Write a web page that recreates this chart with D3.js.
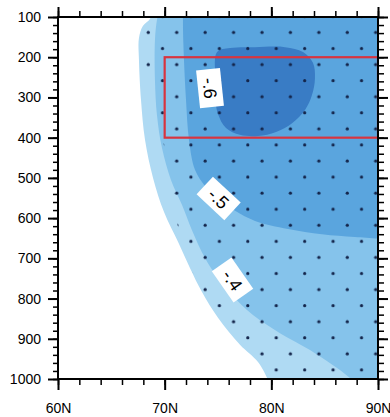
<!DOCTYPE html>
<html>
<head>
<meta charset="utf-8">
<script src="https://cdn.jsdelivr.net/npm/d3@7/dist/d3.min.js"></script>
<style>
  html, body { margin: 0; padding: 0; background: #fff; }
  svg { display: block; }
  text { font-family: "Liberation Sans", Arial, Helvetica, sans-serif; }
</style>
</head>
<body>
<svg id="chart" width="390" height="417"></svg>
<script>
// Axis ticks and labels
const latTicks = [60, 70, 80, 90];
const latTickLabels = ["60N", "70N", "80N", "90N"];
const latMinorTicks = d3.range(60, 90.1, 2);
const presTicks = [100, 200, 300, 400, 500, 600, 700, 800, 900, 1000];
const presMinorTicks = d3.range(100, 1000.1, 20);

// Contour levels (shading intervals) and their fill colours
const levels = [-0.3, -0.4, -0.5, -0.6];
const levelColors = ["#afdaf3", "#85c3eb", "#5aa5de", "#397cc5"];

// Contour boundaries as [latitude, pressure] points
const contourM03 = [
  [68.8, 88], [68.62, 105], [67.97, 122], [67.59, 152], [67.59, 207],
  [67.78, 306], [68.16, 406], [68.91, 500], [69.94, 585], [71.25, 659],
  [72.37, 724], [73.5, 784], [75.0, 848], [77.06, 915], [78.75, 958],
  [79.69, 1002], [79.9, 1015]
];
const contourM04 = [
  [69.47, 88], [69.28, 107], [69.09, 157], [69.09, 257], [69.28, 344],
  [69.75, 426], [70.59, 505], [71.62, 567], [72.56, 630], [73.78, 699],
  [75.0, 749], [76.31, 791], [78.28, 841], [80.81, 886], [83.62, 928],
  [86.7, 983], [87.56, 1002], [87.9, 1012]
];
const contourM05 = [
  [71.72, 88], [71.72, 132], [71.81, 207], [72.0, 306], [72.28, 406],
  [72.84, 480], [73.78, 520], [74.91, 550], [76.6, 582], [78.47, 607],
  [81.56, 627], [84.75, 640], [87.84, 647], [90.66, 652]
];
const contourM06 = [
  [74.91, 187], [76.13, 177], [78.47, 175], [81.28, 175], [82.97, 187],
  [83.9, 214], [84.09, 252], [83.81, 294], [83.16, 331], [81.94, 364],
  [80.44, 386], [78.75, 396], [77.06, 393], [75.75, 376], [75.0, 341],
  [74.72, 299], [74.72, 244]
];

// Edge of the significant (stippled) area
const signifEdge = [
  [67.69, 88], [67.88, 157], [68.16, 212], [68.81, 281], [69.37, 356],
  [70.03, 431], [70.5, 518], [70.87, 580], [71.53, 647], [72.37, 717],
  [73.22, 771], [74.25, 828], [75.66, 878], [77.06, 915], [78.47, 954],
  [79.5, 1007], [79.6, 1015]
];

// Inline contour labels
const labelText = ["-.6", "-.5", "-.4"];
const labelLat = [74.25, 75.06, 76.36];
const labelPres = [277, 551, 754];
const labelAngle = [84, 43, 55];

// Highlighted box
const boxLat = [70, 90];
const boxPres = [200, 400];

const svg = d3.select("#chart");
const margin = { left: 58, right: 12, top: 17, bottom: 38 };
const W = 390, H = 417;

const x = d3.scaleLinear().domain([60, 90]).range([margin.left, W - margin.right]);
const y = d3.scaleLinear().domain([100, 1000]).range([margin.top, H - margin.bottom]);

const defs = svg.append("defs");
defs.append("clipPath").attr("id", "plotClip")
  .append("rect")
  .attr("x", x(60)).attr("y", y(100))
  .attr("width", x(90) - x(60)).attr("height", y(1000) - y(100));

// Stipple dot pattern (staggered)
const pat = defs.append("pattern")
  .attr("id", "stipple")
  .attr("patternUnits", "userSpaceOnUse")
  .attr("x", 141.2).attr("y", 24.5)
  .attr("width", 28.43).attr("height", 32.14);
pat.append("circle").attr("cx", 7.1).attr("cy", 8.0).attr("r", 1.6).attr("fill", "#13244a");
pat.append("circle").attr("cx", 21.32).attr("cy", 24.07).attr("r", 1.6).attr("fill", "#13244a");

const openCurve = d3.line()
  .x(d => x(d[0])).y(d => y(d[1]))
  .curve(d3.curveCatmullRom.alpha(0.5));
const closedCurve = d3.line()
  .x(d => x(d[0])).y(d => y(d[1]))
  .curve(d3.curveCatmullRomClosed.alpha(0.5));

function regionPath(boundary, exterior) {
  return openCurve(boundary) +
    exterior.map(d => "L" + x(d[0]) + "," + y(d[1])).join("") + "Z";
}

const plot = svg.append("g").attr("clip-path", "url(#plotClip)");

const eastBottom = [[93, 1015], [93, 80]];
plot.append("path").attr("d", regionPath(contourM03, eastBottom)).attr("fill", levelColors[0]);
plot.append("path").attr("d", regionPath(contourM04, eastBottom)).attr("fill", levelColors[1]);
plot.append("path").attr("d", regionPath(contourM05, [[93, 652], [93, 80]])).attr("fill", levelColors[2]);
plot.append("path").attr("d", closedCurve(contourM06)).attr("fill", levelColors[3]);

// Stippling over the significant area
plot.append("path").attr("d", regionPath(signifEdge, eastBottom)).attr("fill", "url(#stipple)");

// Red box
plot.append("rect")
  .attr("x", x(boxLat[0])).attr("y", y(boxPres[0]))
  .attr("width", x(boxLat[1]) - x(boxLat[0]))
  .attr("height", y(boxPres[1]) - y(boxPres[0]))
  .attr("fill", "none").attr("stroke", "#d8343f").attr("stroke-width", 2.2);

// Contour labels with white boxes
const labels = svg.append("g");
labelText.forEach((t, i) => {
  const g = labels.append("g")
    .attr("transform", `translate(${x(labelLat[i])},${y(labelPres[i])}) rotate(${labelAngle[i]})`);
  g.append("rect").attr("x", -19).attr("y", -12).attr("width", 38).attr("height", 24).attr("fill", "#fff");
  g.append("text").attr("text-anchor", "middle").attr("dy", "0.36em")
    .attr("font-size", 18).attr("fill", "#000").text(t);
});

// Axes: outward major and minor ticks on all four sides
function styleAxis(g, w) {
  g.select(".domain").remove();
  g.selectAll(".tick line").attr("stroke", "#000").attr("stroke-width", w);
  g.selectAll("text").attr("font-size", 14).attr("fill", "#000")
    .style("font-family", "'Liberation Sans', Arial, sans-serif");
}

const yb = y(1000), yt = y(100), xl = x(60), xr = x(90);

svg.append("g").attr("transform", `translate(${xl},0)`)
  .call(d3.axisLeft(y).tickValues(presMinorTicks).tickSize(5).tickFormat(""))
  .call(g => styleAxis(g, 1.5));
svg.append("g").attr("transform", `translate(${xl},0)`)
  .call(d3.axisLeft(y).tickValues(presTicks).tickSize(10).tickPadding(7).tickFormat(d3.format("d")))
  .call(g => styleAxis(g, 2));

svg.append("g").attr("transform", `translate(${xr},0)`)
  .call(d3.axisRight(y).tickValues(presMinorTicks).tickSize(6).tickFormat(""))
  .call(g => styleAxis(g, 1.5));
svg.append("g").attr("transform", `translate(${xr},0)`)
  .call(d3.axisRight(y).tickValues(presTicks).tickSize(10).tickFormat(""))
  .call(g => styleAxis(g, 2));

svg.append("g").attr("transform", `translate(0,${yt})`)
  .call(d3.axisTop(x).tickValues(latMinorTicks).tickSize(6).tickFormat(""))
  .call(g => styleAxis(g, 1.5));
svg.append("g").attr("transform", `translate(0,${yt})`)
  .call(d3.axisTop(x).tickValues(latTicks).tickSize(10).tickFormat(""))
  .call(g => styleAxis(g, 2));

svg.append("g").attr("transform", `translate(0,${yb})`)
  .call(d3.axisBottom(x).tickValues(latMinorTicks).tickSize(6).tickFormat(""))
  .call(g => styleAxis(g, 1.5));
svg.append("g").attr("transform", `translate(0,${yb})`)
  .call(d3.axisBottom(x).tickValues(latTicks).tickSize(11).tickPadding(13)
    .tickFormat((d, i) => latTickLabels[i]))
  .call(g => styleAxis(g, 2));

// Frame
svg.append("rect")
  .attr("x", xl).attr("y", yt).attr("width", xr - xl).attr("height", yb - yt)
  .attr("fill", "none").attr("stroke", "#000").attr("stroke-width", 2);
</script>
</body>
</html>
